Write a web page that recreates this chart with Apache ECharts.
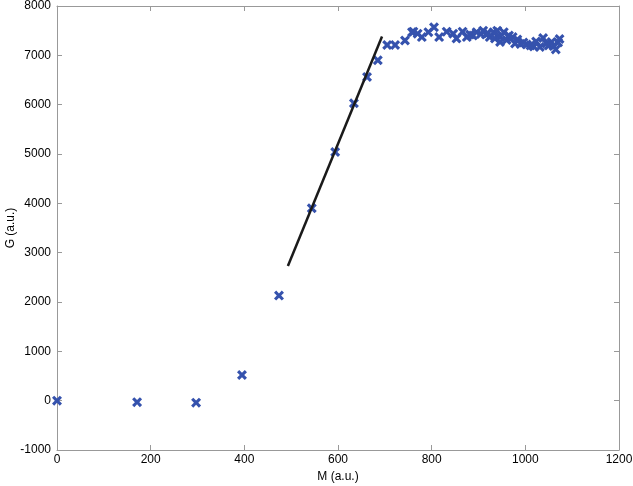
<!DOCTYPE html>
<html>
<head>
<meta charset="utf-8">
<script src="https://cdn.jsdelivr.net/npm/echarts@6/dist/echarts.min.js"></script>
<style>html,body{margin:0;padding:0;background:#fff;}#c{width:633px;height:486px;}</style>
</head>
<body>
<div id="c"></div>
<script>
var mVals = [0,171,297,395,474,544,594,634,662,685,705,722,743,758,761,770,779,793,805,816,832,846,853,866,875,882,888,896,905,910,916,920,924,932,935,940,946,946,954,960,965,973,978,983,990,996,1003,1011,1018,1023,1031,1038,1045,1050,1056,1060,1065,1070,1073];
var gVals = [0,-30,-40,520,2130,3900,5040,6030,6560,6900,7210,7210,7300,7470,7480,7440,7370,7470,7570,7370,7480,7440,7340,7480,7370,7420,7400,7470,7430,7500,7420,7450,7370,7470,7340,7500,7370,7270,7470,7310,7400,7370,7240,7320,7230,7260,7220,7200,7180,7280,7170,7350,7240,7200,7270,7190,7120,7260,7330];
var fitM = [493, 694];
var fitG = [2730, 7380];
var xTicks = [0,200,400,600,800,1000,1200];
var yTicks = [-1000,0,1000,2000,3000,4000,5000,6000,7000,8000];

var pts = mVals.map(function(m,i){return [m,gVals[i]];});
var fit = fitM.map(function(m,i){return [m,fitG[i]];});
var xSym = 'path://M0,2.2 L2.2,0 L5,2.8 L7.8,0 L10,2.2 L7.2,5 L10,7.8 L7.8,10 L5,7.2 L2.2,10 L0,7.8 L2.8,5 Z';
var font = 'Liberation Sans, Arial, Helvetica, sans-serif';
var axisCol = '#999999';
function fmt(v){return String(v);}
function baseAxis(extra){
  var a = {
    axisLine:{show:true,onZero:false,lineStyle:{color:axisCol,width:1}},
    axisTick:{show:true,inside:true,length:5,lineStyle:{color:axisCol}},
    splitLine:{show:false},
    axisLabel:{color:'#000',fontFamily:font,fontSize:12,formatter:fmt}
  };
  for (var k in extra) a[k]=extra[k];
  return a;
}
var chart = echarts.init(document.getElementById('c'));
chart.setOption({
  animation:false,
  backgroundColor:'#fff',
  grid:{left:57,right:14,top:6,bottom:36,containLabel:false,outerBoundsMode:'none'},
  xAxis:[
    baseAxis({type:'value',min:xTicks[0],max:xTicks[xTicks.length-1],interval:200,position:'bottom',
      name:'M (a.u.)',nameLocation:'middle',nameGap:21,nameMoveOverlap:false,nameTextStyle:{color:'#000',fontFamily:font,fontSize:12},
      axisLabel:{color:'#000',fontFamily:font,fontSize:12,margin:4,formatter:fmt}}),
    baseAxis({type:'value',min:xTicks[0],max:xTicks[xTicks.length-1],interval:200,position:'top',axisLabel:{show:false}})
  ],
  yAxis:[
    baseAxis({type:'value',min:yTicks[0],max:yTicks[yTicks.length-1],interval:1000,position:'left',
      name:'G (a.u.)',nameLocation:'middle',nameGap:40,nameRotate:90,nameMoveOverlap:false,nameTextStyle:{color:'#000',fontFamily:font,fontSize:12},
      axisLabel:{color:'#000',fontFamily:font,fontSize:12,margin:6,formatter:fmt}}),
    baseAxis({type:'value',min:yTicks[0],max:yTicks[yTicks.length-1],interval:1000,position:'right',axisLabel:{show:false}})
  ],
  series:[
    {type:'scatter',xAxisIndex:0,yAxisIndex:0,data:pts,symbol:xSym,symbolSize:10,
     itemStyle:{color:'#3552ad',opacity:1}},
    {type:'line',xAxisIndex:0,yAxisIndex:0,data:fit,showSymbol:false,symbol:'none',
     lineStyle:{color:'#1a1a1a',width:2.5}}
  ]
});
</script>
</body>
</html>
